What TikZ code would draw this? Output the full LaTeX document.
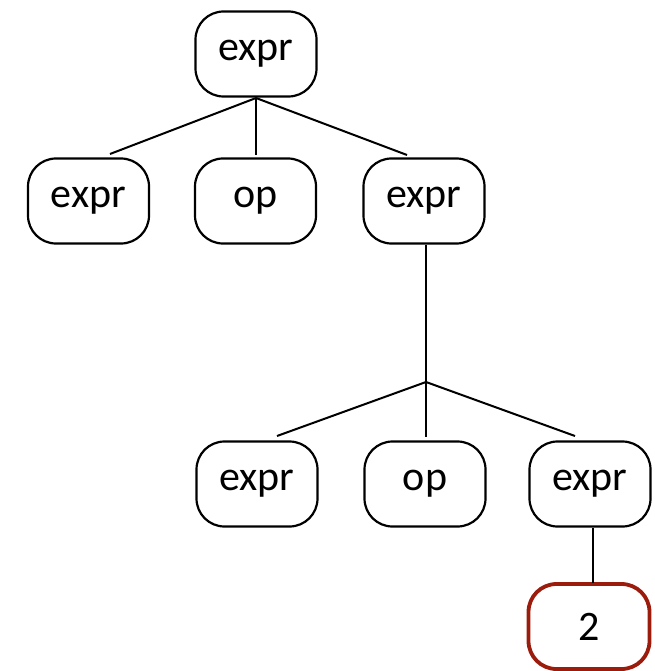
\documentclass[tikz,border=0pt]{standalone}
\usepackage{fontspec}
\setmainfont{Carlito}
\definecolor{leafred}{RGB}{155,28,12}
\begin{document}
\begin{tikzpicture}[x=1pt,y=-1pt]
\tikzset{
  tnode/.style={draw, line width=2.2pt, rounded corners=28pt, minimum width=121pt, minimum height=85pt, inner sep=0pt, font=\fontsize{42}{50}\selectfont},
  leaf/.style={tnode, draw=leafred, line width=3.8pt},
  edge/.style={line width=2pt}
}
\useasboundingbox (0,0) rectangle (654,671);
% nodes
\node[tnode] (root) at (256,54) {expr};
\node[tnode] (a1) at (88.5,201) {expr};
\node[tnode] (a2) at (255.5,201) {op};
\node[tnode] (a3) at (424,201) {expr};
\node[tnode] (b1) at (257,484) {expr};
\node[tnode] (b2) at (425,484) {op};
\node[tnode] (b3) at (590,484) {expr};
\node[leaf] (c1) at (589,626.5) {2};
% junctions and free ends
\coordinate (j1) at (256,98);
\coordinate (e11) at (110,154);
\coordinate (e12) at (256,155);
\coordinate (e13) at (407,155);
\coordinate (j2) at (426,382);
\coordinate (e21) at (277,436);
\coordinate (e22) at (426,437);
\coordinate (e23) at (575,436);
\coordinate (t3) at (593,583);
% connectors
\draw[edge] (root.south) -- (j1);
\draw[edge] (j1) -- (e11);
\draw[edge] (j1) -- (e12);
\draw[edge] (j1) -- (e13);
\draw[edge] (a3.south -| j2) -- (j2);
\draw[edge] (j2) -- (e21);
\draw[edge] (j2) -- (e22);
\draw[edge] (j2) -- (e23);
\draw[edge] (b3.south -| t3) -- (t3);
\end{tikzpicture}
\end{document}
